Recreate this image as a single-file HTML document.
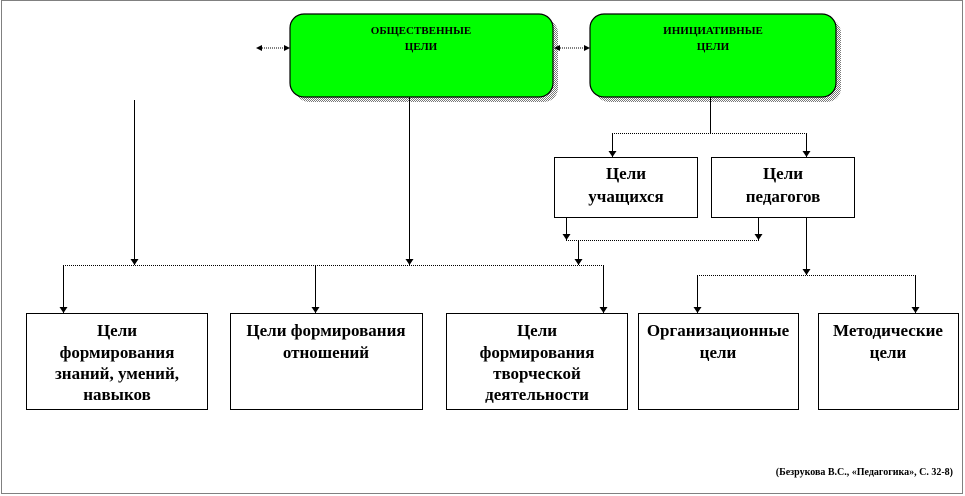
<!DOCTYPE html>
<html><head><meta charset="utf-8"><style>
html,body{margin:0;padding:0;background:#fff;}
svg{display:block;}
text{font-family:"Liberation Serif","Noto Serif CJK SC",serif;font-weight:bold;fill:#000;}
</style></head><body>
<svg width="965" height="496" viewBox="0 0 965 496" xmlns="http://www.w3.org/2000/svg">
<defs>
<marker id="a" markerWidth="8" markerHeight="8" refX="7" refY="4" orient="auto" markerUnits="userSpaceOnUse">
<path d="M1,0 L7,4 L1,8 Z" fill="#000"/></marker>
<pattern id="sh" width="2" height="2" patternUnits="userSpaceOnUse"><rect width="1" height="1" fill="#777"/><rect x="1" y="1" width="1" height="1" fill="#777"/></pattern>
</defs>
<rect x="1.5" y="0.5" width="961" height="493" fill="none" stroke="#000" stroke-width="1" stroke-dasharray="1,1"/>
<rect x="295" y="19" width="263" height="83" rx="14" fill="url(#sh)"/>
<rect x="290" y="14" width="263" height="83" rx="14" fill="#00ff00" stroke="#000" stroke-width="1.2"/>
<rect x="595" y="19" width="246" height="83" rx="14" fill="url(#sh)"/>
<rect x="590" y="14" width="246" height="83" rx="14" fill="#00ff00" stroke="#000" stroke-width="1.2"/>
<text x="421" y="34" font-size="11" text-anchor="middle">ОБЩЕСТВЕННЫЕ</text>
<text x="421" y="50" font-size="11" text-anchor="middle">ЦЕЛИ</text>
<text x="713" y="34" font-size="11" text-anchor="middle">ИНИЦИАТИВНЫЕ</text>
<text x="713" y="50" font-size="11" text-anchor="middle">ЦЕЛИ</text>
<g stroke="#000" stroke-width="1" stroke-dasharray="1,1">
<line x1="258" y1="48" x2="288" y2="48"/><line x1="556" y1="48" x2="588" y2="48"/>
</g>
<g fill="#000">
<path d="M256,48 L262,45 L262,51Z"/><path d="M290,48 L284,45 L284,51Z"/>
<path d="M554,48 L560,45 L560,51Z"/><path d="M590,48 L584,45 L584,51Z"/>
</g>
<g stroke="#000" stroke-width="1" fill="none">
<line x1="409.5" y1="97" x2="409.5" y2="265" marker-end="url(#a)"/>
<line x1="134.5" y1="100" x2="134.5" y2="265" marker-end="url(#a)"/>
<line x1="710.5" y1="97" x2="710.5" y2="133"/>
<line x1="612.5" y1="133" x2="612.5" y2="157" marker-end="url(#a)"/>
<line x1="806.5" y1="133" x2="806.5" y2="157" marker-end="url(#a)"/>
<line x1="566.5" y1="217" x2="566.5" y2="240" marker-end="url(#a)"/>
<line x1="758.5" y1="217" x2="758.5" y2="240" marker-end="url(#a)"/>
<line x1="578.5" y1="240" x2="578.5" y2="265" marker-end="url(#a)"/>
<line x1="806.5" y1="217" x2="806.5" y2="275" marker-end="url(#a)"/>
<line x1="63.5" y1="265" x2="63.5" y2="313" marker-end="url(#a)"/>
<line x1="315.5" y1="265" x2="315.5" y2="313" marker-end="url(#a)"/>
<line x1="603.5" y1="265" x2="603.5" y2="313" marker-end="url(#a)"/>
<line x1="697.5" y1="275" x2="697.5" y2="313" marker-end="url(#a)"/>
<line x1="915.5" y1="275" x2="915.5" y2="313" marker-end="url(#a)"/>
</g>
<g stroke="#000" stroke-width="1" stroke-dasharray="1,1">
<line x1="612" y1="133.5" x2="807" y2="133.5"/>
<line x1="566" y1="240.5" x2="759" y2="240.5"/>
<line x1="63" y1="265.5" x2="604" y2="265.5"/>
<line x1="697" y1="275.5" x2="916" y2="275.5"/>
</g>
<g fill="#fff" stroke="#000" stroke-width="1">
<rect x="554.5" y="157.5" width="143" height="60"/>
<rect x="711.5" y="157.5" width="143" height="60"/>
<rect x="26.5" y="313.5" width="181" height="96"/>
<rect x="230.5" y="313.5" width="192" height="96"/>
<rect x="446.5" y="313.5" width="181" height="96"/>
<rect x="638.5" y="313.5" width="160" height="96"/>
<rect x="818.5" y="313.5" width="140" height="96"/>
</g>
<g font-size="17" text-anchor="middle">
<text x="626" y="179">Цели</text><text x="626" y="202">учащихся</text>
<text x="783" y="179">Цели</text><text x="783" y="202">педагогов</text>
<text x="117" y="336">Цели</text><text x="117" y="358">формирования</text><text x="117" y="379">знаний, умений,</text><text x="117" y="400">навыков</text>
<text x="326" y="336">Цели формирования</text><text x="326" y="358">отношений</text>
<text x="537" y="336">Цели</text><text x="537" y="358">формирования</text><text x="537" y="379">творческой</text><text x="537" y="400">деятельности</text>
<text x="718" y="336">Организационные</text><text x="718" y="358">цели</text>
<text x="888" y="336">Методические</text><text x="888" y="358">цели</text>
</g>
<text x="953" y="475" font-size="10" text-anchor="end">(Безрукова В.С.,  «Педагогика»,  С. 32-8)</text>
</svg>
</body></html>
